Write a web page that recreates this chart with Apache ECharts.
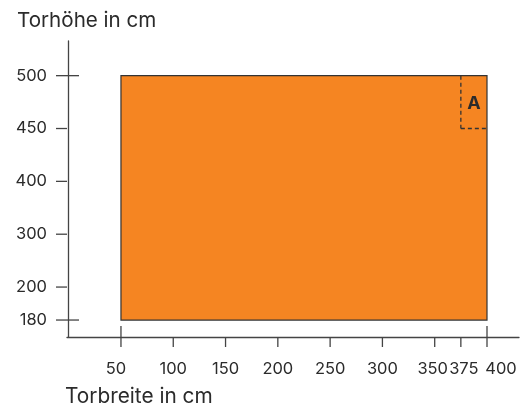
<!DOCTYPE html>
<html>
<head>
<meta charset="utf-8">
<script src="https://cdn.jsdelivr.net/npm/echarts@6/dist/echarts.min.js"></script>
<style>html,body{margin:0;padding:0;background:#fff;}#c{width:529px;height:410px;}</style>
</head>
<body>
<div id="c"></div>
<script>
// Data
var xTicks = [50, 100, 150, 200, 250, 300, 350, 375, 400];
var yTicks = [180, 200, 300, 400, 450, 500];
var doorWidth = [50, 400];   // Torbreite range
var doorHeight = [180, 500]; // Torhöhe range
var regionA = {label: 'A', x: [375, 400], y: [450, 500]};
var yTitle = 'Torhöhe in cm';
var xTitle = 'Torbreite in cm';

// Piecewise y scale (axis is not linear in the reference)
var yKnots = [180, 200, 300, 400, 450, 500];
var yKnotPos = [0.376, 1, 2, 3, 4, 5];
function ymap(v) {
  for (var i = 0; i < yKnots.length - 1; i++) {
    if (v <= yKnots[i + 1]) {
      var t = (v - yKnots[i]) / (yKnots[i + 1] - yKnots[i]);
      return yKnotPos[i] + t * (yKnotPos[i + 1] - yKnotPos[i]);
    }
  }
  return yKnotPos[yKnotPos.length - 1];
}
// label nudges (style only) to match crowded right-hand labels
var xLabelNudge = {50: -5, 350: -2, 375: 3, 400: 14};
var X_MIN = -1.6, X_MAX = 430.6, Y_MIN = 0.055, Y_MAX = 5.656;
var FONT = 'Inter';
var TXT = '#2b2b2b';
var AX = '#444';

var chart = echarts.init(document.getElementById('c'));
chart.setOption({
  animation: false,
  grid: {left: 67, right: 10, top: 41, bottom: 73},
  xAxis: {type: 'value', min: X_MIN, max: X_MAX,
    axisLine: {show: true, lineStyle: {color: AX, width: 1.3}},
    axisTick: {show: false}, axisLabel: {show: false}, splitLine: {show: false}},
  yAxis: {type: 'value', min: Y_MIN, max: Y_MAX,
    axisLine: {show: true, lineStyle: {color: AX, width: 1.3}},
    axisTick: {show: false}, axisLabel: {show: false}, splitLine: {show: false}},
  graphic: [
    {type: 'text', left: 17, top: 10, style: {text: yTitle, font: '20.6px ' + FONT, fill: TXT}},
    {type: 'text', left: 65, top: 386, style: {text: xTitle, font: '20.8px ' + FONT, fill: TXT}}
  ],
  series: [
    {
      type: 'custom', coordinateSystem: 'cartesian2d', clip: false,
      data: [[doorWidth[0], doorHeight[0], doorWidth[1], doorHeight[1]]],
      renderItem: function (params, api) {
        var p0 = api.coord([api.value(0), ymap(api.value(1))]);
        var p1 = api.coord([api.value(2), ymap(api.value(3))]);
        return {type: 'rect', shape: {x: p0[0], y: p1[1], width: p1[0] - p0[0], height: p0[1] - p1[1]},
          style: {fill: '#F58522', stroke: '#333', lineWidth: 1.2}};
      }
    },
    {
      type: 'custom', coordinateSystem: 'cartesian2d', clip: false,
      data: [[regionA.x[0], regionA.y[0], regionA.x[1], regionA.y[1]]],
      renderItem: function (params, api) {
        var p0 = api.coord([api.value(0), ymap(api.value(1))]);
        var p1 = api.coord([api.value(2), ymap(api.value(3))]);
        var ds = {stroke: '#333', lineWidth: 1.3, lineDash: [4, 3], fill: null};
        return {type: 'group', children: [
          {type: 'line', shape: {x1: p0[0], y1: p1[1], x2: p0[0], y2: p0[1]}, style: ds},
          {type: 'line', shape: {x1: p0[0], y1: p0[1], x2: p1[0], y2: p0[1]}, style: ds},
          {type: 'text', x: (p0[0] + p1[0]) / 2, y: (p0[1] + p1[1]) / 2 + 2,
            style: {text: regionA.label, font: 'bold 18px ' + FONT, fill: '#2b2b2b', align: 'center', verticalAlign: 'middle'}}
        ]};
      }
    },
    {
      type: 'custom', coordinateSystem: 'cartesian2d', clip: false,
      data: yTicks.map(function (v) { return [v]; }),
      renderItem: function (params, api) {
        var v = api.value(0);
        var p = api.coord([X_MIN, ymap(v)]);
        var cross = (v === doorHeight[0] || v === doorHeight[1]);
        return {type: 'group', children: [
          {type: 'line', shape: {x1: p[0] - 11, y1: p[1], x2: p[0] + (cross ? 12 : 0), y2: p[1]},
            style: {stroke: AX, lineWidth: 1.3}},
          {type: 'text', x: p[0] - 20, y: p[1],
            style: {text: String(v), font: '16.5px ' + FONT, fill: TXT, align: 'right', verticalAlign: 'middle'}}
        ]};
      }
    },
    {
      type: 'custom', coordinateSystem: 'cartesian2d', clip: false,
      data: xTicks.map(function (v) { return [v]; }),
      renderItem: function (params, api) {
        var v = api.value(0);
        var p = api.coord([v, Y_MIN]);
        var cross = (v === doorWidth[0] || v === doorWidth[1]);
        var nudge = xLabelNudge[v] || 0;
        return {type: 'group', children: [
          {type: 'line', shape: {x1: p[0], y1: p[1] - (cross ? 11 : 0), x2: p[0], y2: p[1] + 10},
            style: {stroke: AX, lineWidth: 1.3}},
          {type: 'text', x: p[0] + nudge, y: p[1] + 32,
            style: {text: String(v), font: '16.5px ' + FONT, fill: TXT, align: 'center', verticalAlign: 'middle'}}
        ]};
      }
    }
  ]
});
</script>
</body>
</html>
